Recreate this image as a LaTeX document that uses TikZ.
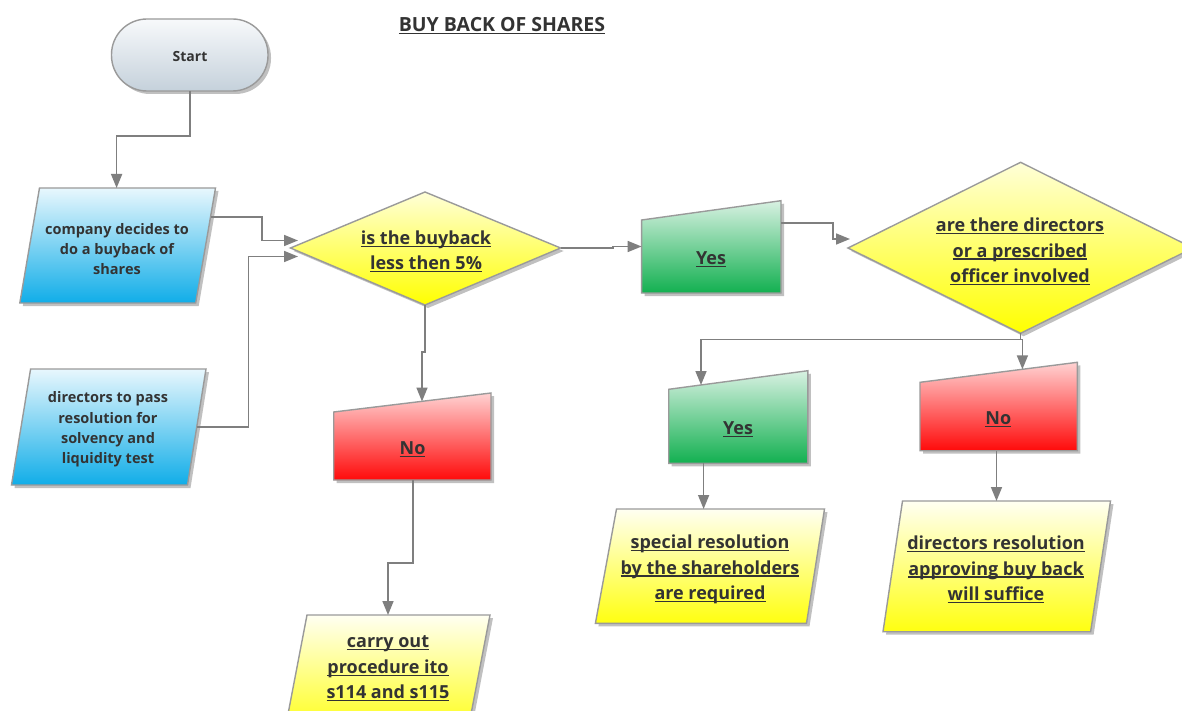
\documentclass[tikz,border=0pt]{standalone}
\usepackage{fontspec}
\setmainfont{Open Sans}
\usetikzlibrary{arrows.meta,shadows}
\definecolor{txt}{HTML}{333333}
\definecolor{lnc}{HTML}{7F7F7F}
\definecolor{edgec}{HTML}{9A9A9A}
\definecolor{startT}{HTML}{F7F9FB}
\definecolor{startB}{HTML}{C5D1DB}
\definecolor{blueT}{HTML}{E8F7FD}
\definecolor{blueB}{HTML}{10ADE8}
\definecolor{yelT}{HTML}{FFFFF2}
\definecolor{yelB}{HTML}{FFFF10}
\definecolor{diaT}{HTML}{FFFFD8}
\definecolor{diaB}{HTML}{FFFF00}
\definecolor{greenT}{HTML}{D8F1E2}
\definecolor{greenB}{HTML}{12B050}
\definecolor{redT}{HTML}{FFD2D2}
\definecolor{redB}{HTML}{FF0A0A}
\newcommand\ulx[1]{\leavevmode\setbox0\hbox{#1}\rlap{\rule[-2.4pt]{\wd0}{1.1pt}}\box0}
\tikzset{
  conn/.style={draw=lnc, line width=1.6pt, -{Triangle[length=14pt,width=11pt]}},
  shp/.style={draw=edgec, line width=1.4pt, drop shadow={shadow xshift=3pt, shadow yshift=-3pt, opacity=0.35, fill=black!70}},
  lbl/.style={text=txt, font=\bfseries\fontsize{14.5}{20.3}\selectfont, align=center},
  big/.style={text=txt, font=\bfseries\fontsize{18}{25.5}\selectfont, align=center},
}
\begin{document}
\begin{tikzpicture}[x=1pt,y=-1pt]
\clip (0,0) rectangle (1182,711);
\fill[white] (0,0) rectangle (1182,711);

% title
\node[text=txt, font=\bfseries\fontsize{19.5}{24}\selectfont] (title) at (502,25.5) {\ulx{BUY BACK OF SHARES}};

% start
\path[shp, top color=startT, bottom color=startB, rounded corners=35.5pt] (111.5,19) rectangle (268,91);
\node[lbl, font=\bfseries\fontsize{14}{17}\selectfont] (start) at (190,56.5) {Start};

% left inputs
\path[shp, top color=blueT, bottom color=blueB] (39.5,188) -- (215.5,188) -- (195.7,303) -- (19.8,303) -- cycle;
\node[lbl] (comp) at (117,249) {company decides to\\do a buyback of\\shares};
\path[shp, top color=blueT, bottom color=blueB] (30.6,369) -- (206,369) -- (187.5,485) -- (11.5,485) -- cycle;
\node[lbl] (dirs) at (108,429.5) {directors to pass\\resolution for\\solvency and\\liquidity test};

% decision 1
\path[shp, top color=diaT, bottom color=diaB] (290.5,248) -- (425,192) -- (560.6,248) -- (425,305) -- cycle;
\node[big] (d1) at (426,251.5) {\ulx{is the buyback}\\\ulx{less then 5\%}};

% decision 2
\path[shp, top color=diaT, bottom color=diaB] (848,248) -- (1020.6,162.3) -- (1193,248) -- (1020.6,333.3) -- cycle;
\node[big] (d2) at (1020,251.5) {\ulx{are there directors}\\\ulx{or a prescribed}\\\ulx{officer involved}};

% yes / no boxes
\path[shp, top color=greenT, bottom color=greenB] (641.6,220) -- (781,200.7) -- (781,293) -- (641.6,293) -- cycle;
\node[big] (yes1) at (711,259) {\ulx{Yes}};
\path[shp, top color=redT, bottom color=redB] (333.7,412) -- (491,393) -- (491,480) -- (333.7,480) -- cycle;
\node[big] (no1) at (412.5,449) {\ulx{No}};
\path[shp, top color=greenT, bottom color=greenB] (668.7,389.3) -- (807.9,370.7) -- (807.9,463.3) -- (668.7,463.3) -- cycle;
\node[big] (yes2) at (738,429) {\ulx{Yes}};
\path[shp, top color=redT, bottom color=redB] (920,382.3) -- (1077.4,362.3) -- (1077.4,450.7) -- (920,450.7) -- cycle;
\node[big] (no2) at (998.3,419) {\ulx{No}};

% outcomes
\path[shp, top color=yelT, bottom color=yelB] (307,615) -- (490,615) -- (467,735) -- (284,735) -- cycle;
\node[big] (carry) at (388,668.5) {\ulx{carry out}\\\ulx{procedure ito}\\\ulx{s114 and s115}};
\path[shp, top color=yelT, bottom color=yelB] (616.5,509) -- (824.5,509) -- (806.5,623.3) -- (595.4,623.3) -- cycle;
\node[big] (special) at (710,569.5) {\ulx{special resolution}\\\ulx{by the shareholders}\\\ulx{are required}};
\path[shp, top color=yelT, bottom color=yelB] (902.5,501) -- (1110.5,501) -- (1090.6,631.7) -- (883,631.7) -- cycle;
\node[big] (dirres) at (996,569.5) {\ulx{directors resolution}\\\ulx{approving buy back}\\\ulx{will suffice}};

% connector end points
\coordinate (startS) at (190,91);
\coordinate (compN) at (116.6,188);
\coordinate (compE) at (210.5,217);
\coordinate (dirE) at (196.8,427);
\coordinate (d1Wa) at (298,240.5);
\coordinate (d1Wb) at (298,256.5);
\coordinate (d1S) at (425,305);
\coordinate (no1N) at (422,401.5);
\coordinate (no1S) at (413,480);
\coordinate (carryN) at (388,615);
\coordinate (d1E) at (560.6,248);
\coordinate (yes1W) at (641.6,246.5);
\coordinate (yes1E) at (781,223);
\coordinate (d2W) at (850,239);
\coordinate (d2S) at (1020.6,333.3);
\coordinate (yes2N) at (701,385);
\coordinate (no2N) at (1022.4,369.3);
\coordinate (yes2S) at (703.6,463.3);
\coordinate (specN) at (703.6,509);
\coordinate (no2S) at (996.5,450.7);
\coordinate (dirresN) at (996.5,501);

% connectors
\draw[conn] (startS) -- ++(0,45) -| (compN);
\draw[conn] (compE) -- ++(51.5,0) |- (d1Wa);
\draw[conn] (dirE) -- ++(51.5,0) |- (d1Wb);
\draw[conn] (d1S) -- ++(0,47) -| (no1N);
\draw[conn] (no1S) -- ++(0,83) -| (carryN);
\draw[conn] (d1E) -- ++(52.5,0) |- (yes1W);
\draw[conn] (yes1E) -- ++(52,0) |- (d2W);
\draw[conn] (d2S) -- ++(0,6) -| (yes2N);
\draw[conn] (d2S) -- ++(0,6) -| (no2N);
\draw[conn] (yes2S) -- (specN);
\draw[conn] (no2S) -- (dirresN);
\end{tikzpicture}
\end{document}
